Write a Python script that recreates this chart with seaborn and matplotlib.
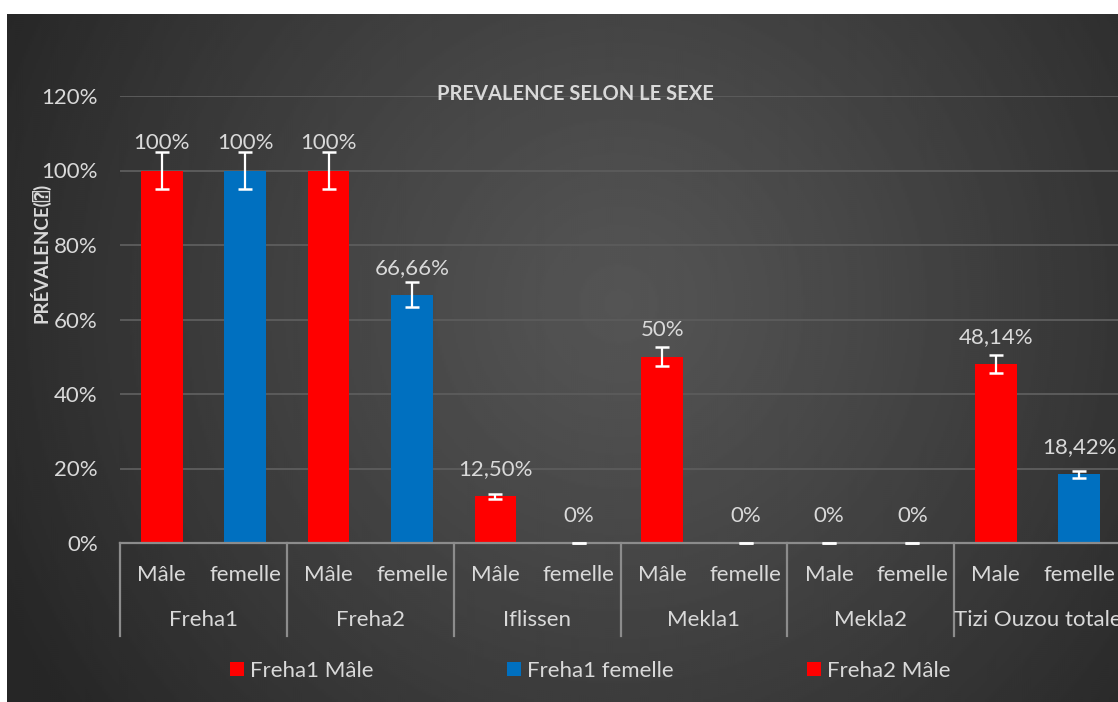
import numpy as np
import pandas as pd
import seaborn as sns
import matplotlib.pyplot as plt
import matplotlib.transforms as mtransforms
from matplotlib import patheffects as pe
from matplotlib.patches import Patch

# Data ------------------------------------------
sites = ['Freha1', 'Freha2', 'Iflissen', 'Mekla1', 'Mekla2', 'Tizi Ouzou totale']
sexes = ['Mâle', 'femelle', 'Mâle', 'femelle', 'Mâle', 'femelle',
         'Mâle', 'femelle', 'Male', 'femelle', 'Male', 'femelle']
prevalence = [100, 100, 100, 66.66, 12.5, 0, 50, 0, 0, 0, 48.14, 18.42]
errors = [5, 5, 5, 3.33, 0.63, 0, 2.5, 0, 0, 0, 2.41, 0.92]
value_labels = ['100%', '100%', '100%', '66,66%', '12,50%', '0%',
                '50%', '0%', '0%', '0%', '48,14%', '18,42%']
legend_labels = ['Freha1 Mâle', 'Freha1 femelle', 'Freha2 Mâle']
yticks = [0, 20, 40, 60, 80, 100, 120]
# -----------------------------------------------

RED = '#FF0000'
BLUE = '#0070C0'
TXT = '#D9D9D9'
GRID = '#5b5b5b'
AXIS = '#8c8c8c'
FS = 16

plt.rcParams['font.family'] = ['Lato', 'DejaVu Sans']

df = pd.DataFrame({
    'site': [s for s in sites for _ in range(2)],
    'sex': sexes,
    'value': prevalence,
})
df['key'] = df['site'] + ' | ' + df['sex']
df['kind'] = ['male' if s.lower().startswith('m') else 'female' for s in df['sex']]

W, H = 1118, 702
fig = plt.figure(figsize=(W / 100, H / 100), dpi=100, facecolor='white')

# dark radial gradient panel (Excel style)
bg = fig.add_axes([7 / W, 0, 1 - 7 / W, 688 / H])
ny, nx = 344, 556
yy, xx = np.mgrid[0:ny, 0:nx]
r = np.sqrt(((xx - nx * 0.55) / nx) ** 2 + ((yy - ny * 0.42) / ny * 0.62) ** 2)
r = np.clip(r / 0.62, 0, 1)
shade = 0.33 - (0.33 - 0.15) * r ** 1.2
bg.imshow(shade, cmap='gray', vmin=0, vmax=1, aspect='auto', interpolation='bilinear')
bg.axis('off')

ax = fig.add_axes([120 / W, 159 / H, 1001 / W, 447 / H])
ax.set_facecolor('none')

sns.barplot(data=df, x='key', y='value', hue='kind', order=df['key'],
            palette={'male': RED, 'female': BLUE}, dodge=False, width=0.5,
            saturation=1, legend=False, ax=ax, zorder=3)
for p in ax.patches:
    p.set_path_effects([pe.SimplePatchShadow(offset=(0, -1.5), shadow_rgbFace='black', alpha=0.35),
                        pe.Normal()])

xs = np.arange(len(df))
ax.errorbar(xs, df['value'], yerr=errors, fmt='none', ecolor='white',
            elinewidth=1.6, capsize=4.7, capthick=1.8, zorder=7, clip_on=False)

for x, v, lab in zip(xs, df['value'], value_labels):
    ax.annotate(lab, (x, v), xytext=(0, 19.5), textcoords='offset points',
                ha='center', va='center', color=TXT, fontsize=FS, zorder=5)

ax.set_ylim(0, 120)
ax.set_xlim(-0.5, len(df) - 0.5)
ax.set_yticks(yticks)
ax.set_yticklabels([f'{t}%' for t in yticks])
ax.tick_params(axis='y', length=0, pad=16, labelsize=FS, labelcolor=TXT)
ax.tick_params(axis='x', length=0, labelbottom=False)
ax.set_xlabel('')
ax.set_ylabel('')
ax.grid(axis='y', color=GRID, linewidth=1.4, zorder=0)
ax.set_axisbelow(True)
for s in ['top', 'right', 'left']:
    ax.spines[s].set_visible(False)
ax.spines['bottom'].set_color(AXIS)
ax.spines['bottom'].set_linewidth(1.6)
ax.spines['bottom'].set_zorder(6)

# two-level category axis
trans = mtransforms.blended_transform_factory(ax.transData, ax.transAxes)
for x, s in zip(xs, df['sex']):
    ax.text(x, -0.072, s, transform=trans, ha='center', va='center',
            color=TXT, fontsize=FS)
for i, site in enumerate(sites):
    ax.text(2 * i + 0.5, -0.172, site, transform=trans, ha='center', va='center',
            color=TXT, fontsize=FS)
for i in range(len(sites) + 1):
    ax.plot([2 * i - 0.5, 2 * i - 0.5], [0, -0.208], transform=trans, color=AXIS,
            linewidth=1.6, clip_on=False)

fig.text(40 / W, 1 - 253 / H, 'PRÉVALENCE(\u2370)', rotation=90, ha='center', va='center',
         color=TXT, fontsize=13.5, fontweight='bold',
         family=['Lato', 'DejaVu Sans', 'DejaVu Sans Mono'])
fig.text(575 / W, 1 - 94 / H, 'PREVALENCE SELON LE SEXE', ha='center', va='center',
         color=TXT, fontsize=14.5, fontweight='bold')

handles = [Patch(facecolor=c, edgecolor='none') for c in [RED, BLUE, RED]]
fig.legend(handles, legend_labels, loc='center', bbox_to_anchor=(590 / W, 1 - 671 / H),
           ncol=3, frameon=False, fontsize=FS, labelcolor=TXT,
           handlelength=0.63, handleheight=0.63, handletextpad=0.27, columnspacing=6.0)

fig.savefig('out.png', dpi=100, facecolor='white')
